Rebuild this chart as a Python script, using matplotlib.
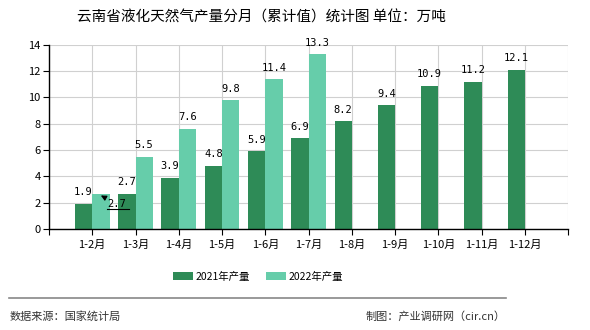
import numpy as np
import matplotlib
matplotlib.use("Agg")
import matplotlib.pyplot as plt
from matplotlib.lines import Line2D

plt.rcParams['font.family'] = ['Noto Sans CJK SC', 'DejaVu Sans']

# data
months = ['1-2月', '1-3月', '1-4月', '1-5月', '1-6月', '1-7月',
          '1-8月', '1-9月', '1-10月', '1-11月', '1-12月']
prod_2021 = [1.9, 2.7, 3.9, 4.8, 5.9, 6.9, 8.2, 9.4, 10.9, 11.2, 12.1]
prod_2022 = [2.7, 5.5, 7.6, 9.8, 11.4, 13.3]
yticks = [0, 2, 4, 6, 8, 10, 12, 14]

c21 = '#2e8b57'
c22 = '#66cdaa'

fig = plt.figure(figsize=(5.9, 3.3), dpi=100)
ax = fig.add_axes([0.083, 0.306, 0.88, 0.558])

x = np.arange(len(months))
w = 0.4
ax.bar(x - w / 2, prod_2021, w, color=c21, label='2021年产量', zorder=3)
x22 = x[:len(prod_2022)]
ax.bar(x22 + w / 2, prod_2022, w, color=c22, label='2022年产量', zorder=3)

# value labels
for xi, v in zip(x, prod_2021):
    ax.text(xi - w / 2, v + 0.5, f'{v:.1f}', ha='center', va='bottom',
            fontsize=7.5, family='DejaVu Sans Mono', zorder=4)
for i, (xi, v) in enumerate(zip(x22, prod_2022)):
    if i == 0:
        # first label sits beside the bar with a leader arrow
        ax.annotate(f'{v:.1f}', xy=(xi + 0.2, v - 0.15),
                    xytext=(xi + 0.35, v - 1.18), ha='left', va='bottom',
                    fontsize=7.5, family='DejaVu Sans Mono', zorder=4,
                    arrowprops=dict(arrowstyle='-|>', color='black', lw=0.8,
                                    shrinkA=0, shrinkB=0, mutation_scale=8))
        ax.plot([xi + 0.35, xi + 0.86], [v - 1.18, v - 1.18], color='black', lw=0.8, zorder=4)
        continue
    ax.text(xi + w / 2, v + 0.5, f'{v:.1f}', ha='center', va='bottom',
            fontsize=7.5, family='DejaVu Sans Mono', zorder=4)

ax.set_xlim(-1, len(months))
ax.set_ylim(0, 14)
ax.set_yticks(yticks)
ax.set_xticks(np.arange(-1, len(months) + 1))
ax.set_xticklabels([''] + months + [''])
ax.tick_params(axis='both', labelsize=8, length=4, color='black', pad=2)
ax.tick_params(axis='x', pad=4)
ax.grid(True, color='#d0d0d0', lw=0.8, zorder=0)
for s in ['top', 'right']:
    ax.spines[s].set_visible(False)
for s in ['left', 'bottom']:
    ax.spines[s].set_color('black')
    ax.spines[s].set_linewidth(1.0)
    ax.spines[s].set_zorder(5)

fig.text(0.443, 0.948, '云南省液化天然气产量分月（累计值）统计图 单位：万吨',
         ha='center', va='center', fontsize=10.5)

ax.legend(loc='center', bbox_to_anchor=(0.403, -0.258),
          bbox_transform=ax.transAxes, ncol=2, frameon=False, fontsize=7.5,
          handlelength=1.9, handleheight=0.9, columnspacing=1.5, handletextpad=0.3)

fig.add_artist(Line2D([0.016, 0.857], [0.097, 0.097], color='#888888', lw=1.2))
fig.text(0.017, 0.042, '数据来源：国家统计局', ha='left', va='center', fontsize=8, color='#333333')
fig.text(0.857, 0.042, '制图：产业调研网（cir.cn）', ha='right', va='center', fontsize=8, color='#333333')

fig.savefig('out.png', dpi=100)
